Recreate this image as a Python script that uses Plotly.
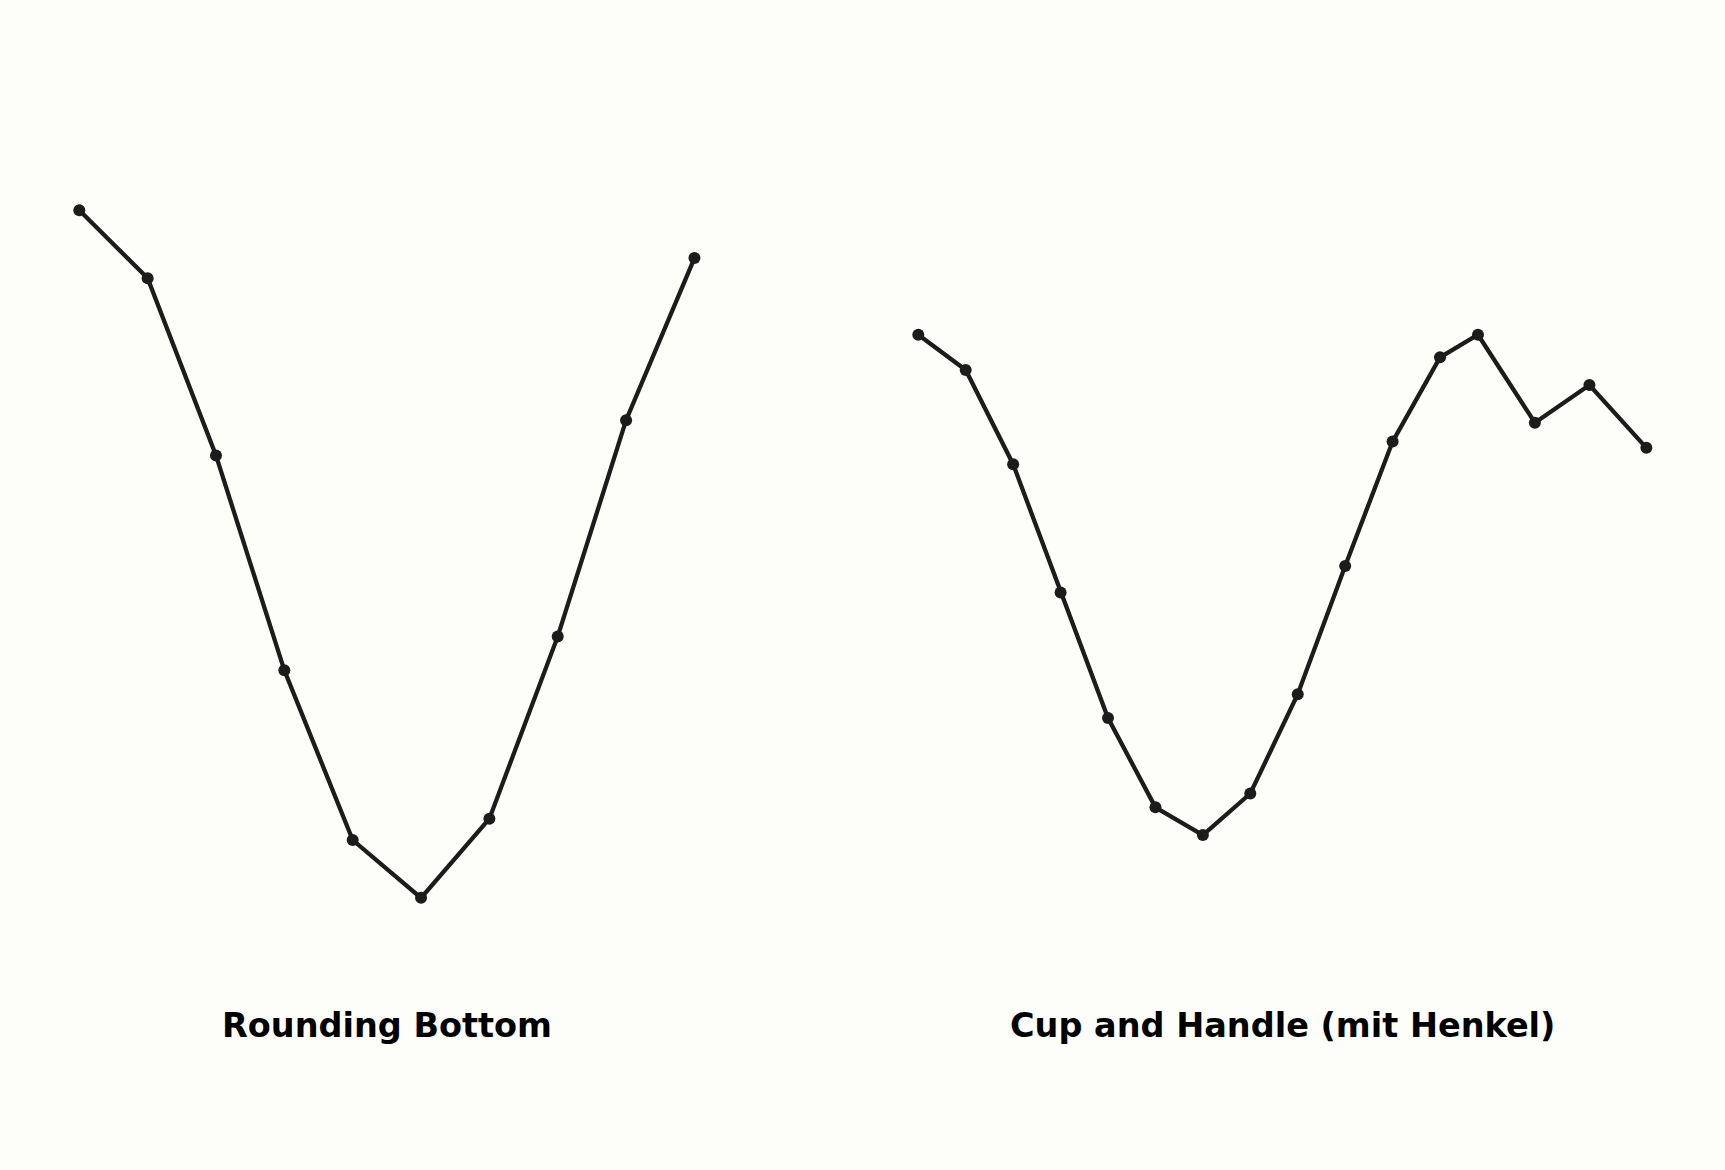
import plotly.graph_objects as go
from plotly.subplots import make_subplots


# ============================================
# Data
# ============================================

rounding_x = [0, 1, 2, 3, 4, 5, 6, 7, 8, 9]
rounding_y = [100.0, 94.6, 80.5, 63.4, 49.9, 45.3, 51.6, 66.1, 83.3, 96.2]

cup_x = [0, 1, 2, 3, 4, 5, 6, 7, 8, 9, 10, 11, 11.8, 13.0, 14.15, 15.35]
cup_y = [
    90.1, 87.3, 79.8, 69.6, 59.6, 52.5, 50.3, 53.6,
    61.5, 71.7, 81.6, 88.3, 90.1, 83.1, 86.1, 81.1
]

titles = ["Rounding Bottom", "Cup and Handle (mit Henkel)"]

LINE = "#1c1c1c"
BG = "#fdfdfa"


# ============================================
# Chart
# ============================================

fig = make_subplots(rows=1, cols=2)

for col, (xs, ys) in enumerate([(rounding_x, rounding_y), (cup_x, cup_y)], start=1):
    fig.add_trace(
        go.Scatter(
            x=xs,
            y=ys,
            mode="lines+markers",
            line=dict(color=LINE, width=4.3),
            marker=dict(color=LINE, size=12),
            showlegend=False
        ),
        row=1,
        col=col
    )

# pattern names below each panel
for i, (xs, title) in enumerate(zip([rounding_x, cup_x], titles)):
    ref = "x" if i == 0 else "x2"
    fig.add_annotation(
        x=(min(xs) + max(xs)) / 2,
        xref=ref,
        y=0.1235,
        yref="paper",
        yanchor="middle",
        text="<b>" + title + "</b>",
        showarrow=False,
        font=dict(family="DejaVu Sans", size=33.5, color="#000000")
    )

axis_off = dict(
    showgrid=False,
    zeroline=False,
    showticklabels=False,
    showline=False,
    ticks=""
)

fig.update_layout(

    width=1725,

    height=1170,

    margin=dict(l=0, r=0, t=0, b=0),

    paper_bgcolor=BG,

    plot_bgcolor=BG,

    xaxis=dict(domain=[0, 0.45], range=[-1.16, 10.197], **axis_off),

    xaxis2=dict(domain=[0.5, 1.0], range=[-1.176, 17.008], **axis_off),

    yaxis=dict(domain=[0, 1], range=[23.65, 116.73], **axis_off),

    yaxis2=dict(domain=[0, 1], range=[23.65, 116.73], **axis_off)

)

fig.write_html(
    "out.html",
    config={"displayModeBar": False},
    post_script="document.body.style.margin='0';"
)
